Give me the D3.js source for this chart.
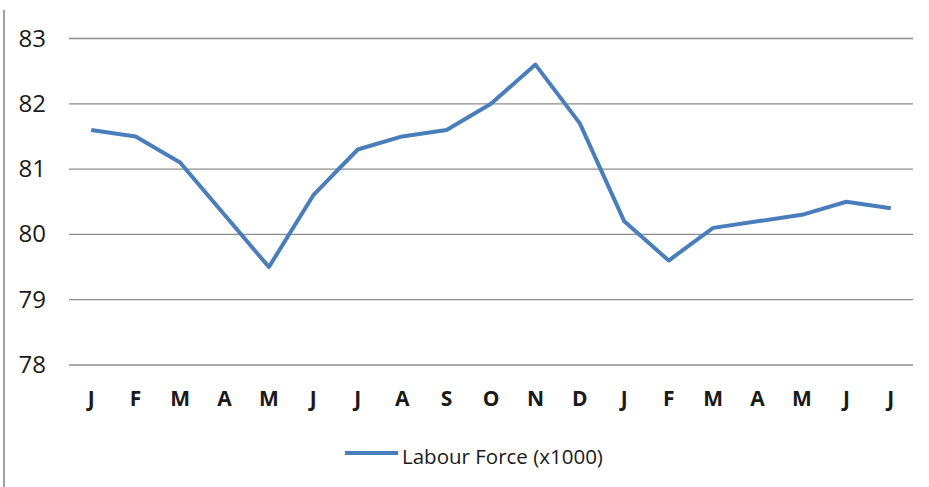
<!DOCTYPE html>
<html>
<head>
<meta charset="utf-8">
<script src="https://cdn.jsdelivr.net/npm/d3@7"></script>
<style>
  body { margin: 0; background: #fff; }
  svg { font-family: "Open Sans", "Liberation Sans", sans-serif; }
</style>
</head>
<body>
<svg id="chart" width="929" height="487"></svg>
<script>
const months = ["J", "F", "M", "A", "M", "J", "J", "A", "S", "O", "N", "D", "J", "F", "M", "A", "M", "J", "J"];
const labourForce = [81.6, 81.5, 81.1, 80.3, 79.5, 80.6, 81.3, 81.5, 81.6, 82.0, 82.6, 81.7, 80.2, 79.6, 80.1, 80.2, 80.3, 80.5, 80.4];
const yTicks = [78, 79, 80, 81, 82, 83];
const seriesName = "Labour Force (x1000)";

const svg = d3.select("#chart");
const margin = { top: 38.5, right: 16, bottom: 122, left: 69 };
const width = 929, height = 487;

const x = d3.scaleBand()
  .domain(d3.range(months.length))
  .range([margin.left, width - margin.right]);

const y = d3.scaleLinear()
  .domain([78, 83])
  .range([height - margin.bottom, margin.top]);

// left border line
svg.append("line")
  .attr("x1", 4).attr("x2", 4)
  .attr("y1", 10).attr("y2", height)
  .attr("stroke", "#a0a0a0")
  .attr("stroke-width", 2);

// gridlines
svg.append("g")
  .selectAll("line")
  .data(yTicks)
  .join("line")
  .attr("x1", margin.left)
  .attr("x2", width - margin.right)
  .attr("y1", d => y(d))
  .attr("y2", d => y(d))
  .attr("stroke", "#8c8c8c")
  .attr("stroke-width", 1.3);

// y labels
svg.append("g")
  .selectAll("text")
  .data(yTicks)
  .join("text")
  .attr("x", 46)
  .attr("y", d => y(d) + 8)
  .attr("text-anchor", "end")
  .attr("font-size", 24)
  .attr("fill", "#1a1a1a")
  .text(d => d);

// x labels
svg.append("g")
  .selectAll("text")
  .data(months)
  .join("text")
  .attr("x", (d, i) => x(i) + x.bandwidth() / 2)
  .attr("y", 406)
  .attr("text-anchor", "middle")
  .attr("font-size", 21)
  .attr("font-weight", "bold")
  .attr("fill", "#1a1a1a")
  .text(d => d);

const line = d3.line()
  .x((d, i) => x(i) + x.bandwidth() / 2)
  .y(d => y(d));

svg.append("path")
  .datum(labourForce)
  .attr("fill", "none")
  .attr("stroke", "#4a7ebb")
  .attr("stroke-width", 4)
  .attr("stroke-linejoin", "round")
  .attr("d", line);

// legend
const legend = svg.append("g").attr("transform", "translate(345,453)");
legend.append("line")
  .attr("x1", 0).attr("x2", 53)
  .attr("y1", 0).attr("y2", 0)
  .attr("stroke", "#4a7ebb")
  .attr("stroke-width", 4);
legend.append("text")
  .attr("x", 57)
  .attr("y", 11)
  .attr("font-size", 20.5)
  .attr("fill", "#1a1a1a")
  .text(seriesName);
</script>
</body>
</html>
